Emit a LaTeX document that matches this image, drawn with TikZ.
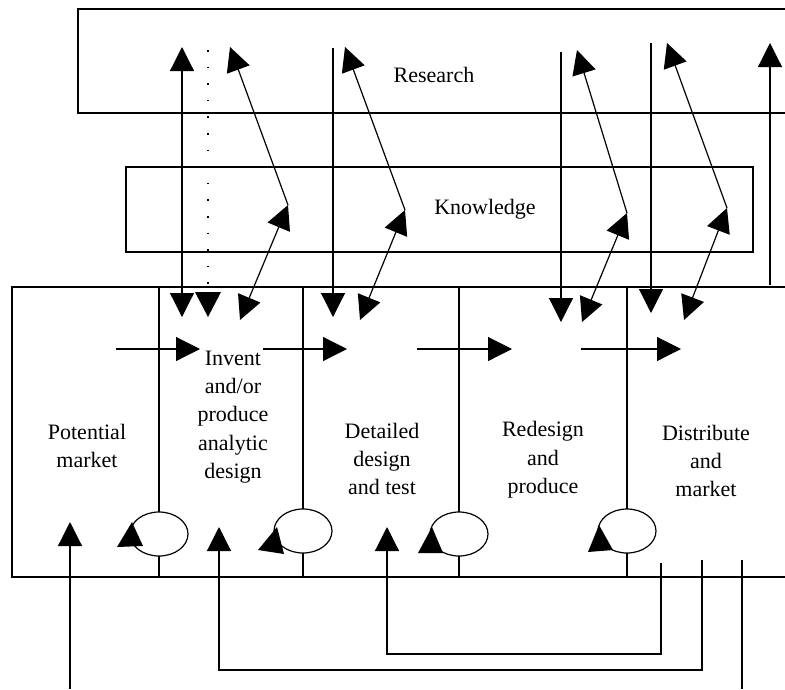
\documentclass[tikz,border=0pt]{standalone}
\usepackage{fontspec}
\setmainfont{Liberation Serif}
\usetikzlibrary{arrows.meta}
\begin{document}
\begin{tikzpicture}[x=1pt,y=-1pt,
  ln/.style={line width=1.2pt},
  tip/.style={-{Triangle[length=24pt,width=24pt]}},
  tips/.style={{Triangle[length=24pt,width=24pt]}-{Triangle[length=24pt,width=24pt]}},
  lbl/.style={font=\fontsize{22}{28.3}\selectfont, align=center, inner sep=0pt},
  dots/.style={line width=1.6pt, dash pattern=on 1.6pt off 15pt}]
\useasboundingbox (0,0) rectangle (785,689);

% frames, open to the right
\draw[ln] (785,9) -- (78,9) -- (78,113) -- (785,113);
\draw[ln] (126,167) rectangle (753,252);
\draw[ln] (785,287) -- (12,287) -- (12,577) -- (785,577);

% stage dividers with feedback loops
\foreach \x/\y [count=\i] in {159/534, 303/531, 459/534, 627/531}{
  \draw[ln] (\x,287) -- (\x,577);
  \filldraw[ln, fill=white] (\x,\y) ellipse [x radius=29pt, y radius=22pt];
}
\fill (117,547) -- (132,522) -- (143,546) -- cycle;
\fill (258,550) -- (277,527) -- (284,554) -- cycle;
\fill (418,553) -- (432,527) -- (443,553) -- cycle;
\fill (588,552) -- (599,525) -- (613,550) -- cycle;

% labels
\node[lbl] (research) at (434,75) {Research};
\node[lbl] (knowledge) at (485,209) {Knowledge};
\node[lbl] (market) at (87,446) {Potential\\market};
\node[lbl] (invent) at (233,417) {Invent\\and/or\\produce\\analytic\\design};
\node[lbl] (detail) at (382,459) {Detailed\\design\\and test};
\node[lbl] (redesign) at (543,460) {Redesign\\and\\produce};
\node[lbl] (distrib) at (706,461) {Distribute\\and\\market};

% knowledge junctions
\coordinate (k1) at (288,205);
\coordinate (k2) at (405,210);
\coordinate (k3) at (627,213);
\coordinate (k4) at (727,208);
% research ends
\coordinate (r1) at (230,47);
\coordinate (r2) at (345,47);
\coordinate (r3) at (577,50);
\coordinate (r4) at (667,43);
% stage ends
\coordinate (m1) at (240,320);
\coordinate (m2) at (360,320);
\coordinate (m3) at (582,322);
\coordinate (m4) at (684,320);

\foreach \i in {1,...,4}{
  \draw[ln,tips] (m\i) -- (k\i);
  \draw[ln,tip] (k\i) -- (r\i);
}

% direct research links
\coordinate (v1t) at (182,47);  \coordinate (v1b) at (182,317);
\draw[ln,tips] (v1b) -- (v1t);
\coordinate (d1t) at (208,50);  \coordinate (d1b) at (208,317);
\draw[dots] (d1t) -- (208,292);
\fill (195,292) -- (221,292) -- (208,317) -- cycle;
\coordinate (v2t) at (333,48);  \coordinate (v2b) at (333,317);
\draw[ln,tip] (v2t) -- (v2b);
\coordinate (v3t) at (561,52);  \coordinate (v3b) at (561,322);
\draw[ln,tip] (v3t) -- (v3b);
\coordinate (v4t) at (651,43);  \coordinate (v4b) at (651,313);
\draw[ln,tip] (v4t) -- (v4b);
\coordinate (v5t) at (770,43);  \coordinate (v5b) at (770,285);
\draw[ln,tip] (v5b) -- (v5t);

% central chain
\coordinate (h1a) at (116,349); \coordinate (h1b) at (200,349);
\coordinate (h2a) at (263,349); \coordinate (h2b) at (347,349);
\coordinate (h3a) at (417,349); \coordinate (h3b) at (512,349);
\coordinate (h4a) at (581,349); \coordinate (h4b) at (681,349);
\foreach \i in {1,...,4}{ \draw[ln,tip] (h\i a) -- (h\i b); }

% feedback from below
\coordinate (f0a) at (70,689);  \coordinate (f0b) at (70,522);
\draw[ln,tip] (f0a) -- (f0b);
\coordinate (f1s) at (702,560); \coordinate (f1t) at (219,527);
\draw[ln,tip] (f1s) -- (702,670) -- (219,670) -- (f1t);
\coordinate (f2s) at (661,563); \coordinate (f2t) at (387,527);
\draw[ln,tip] (f2s) -- (661,654) -- (387,654) -- (f2t);
\coordinate (f3a) at (742,560); \coordinate (f3b) at (742,689);
\draw[ln] (f3a) -- (f3b);
\end{tikzpicture}
\end{document}
